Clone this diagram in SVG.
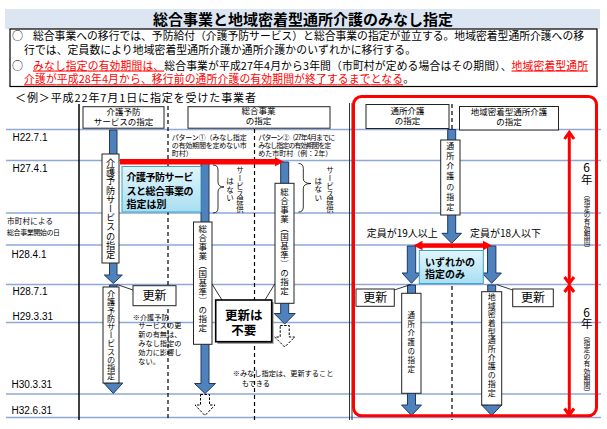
<svg xmlns="http://www.w3.org/2000/svg" width="607" height="429" viewBox="0 0 607 429">
<defs>
<linearGradient id="lb" x1="0" y1="0" x2="0" y2="1">
<stop offset="0" stop-color="#e2f5fc"/>
<stop offset="1" stop-color="#a8dff2"/>
</linearGradient>
<style>
.jp{font-family:"Noto Sans CJK JP","Noto Sans CJK SC",sans-serif;fill:#000}
.lat{font-family:"Liberation Sans",Arial,sans-serif;fill:#000}
.vt{writing-mode:vertical-rl}
.hl{stroke:#8ea9d8;stroke-width:1.3;fill:none}
.dash{stroke:#000;stroke-width:1.2;stroke-dasharray:4 3;fill:none}
.box{fill:#fff;stroke:#222;stroke-width:1}
.bar{fill:#4f81bd;stroke:#203864;stroke-width:1}
.darr{fill:#fff;stroke:#000;stroke-width:1;stroke-dasharray:2.5 1.5}
.lbbox{fill:url(#lb);stroke:#3aa6c8;stroke-width:1}
.red{fill:#ff0000}
.redl{stroke:#ff0000;stroke-width:3;fill:none}
.thin{stroke:#000;stroke-width:0.8;fill:none}
</style>
</defs>

<g id="title">
<rect x="5" y="9" width="595" height="20" fill="#dce6f2"/>
<text class="jp" x="303" y="24.5" font-size="15" font-weight="bold" text-anchor="middle">総合事業と地域密着型通所介護のみなし指定</text>
</g>

<g id="summary">
<rect x="10" y="29" width="587" height="57.5" fill="#fff" stroke="#000" stroke-width="1.2"/>
<text class="jp" x="12" y="40" font-size="11">○</text>
<text class="jp" x="33" y="40" font-size="10.8" textLength="551" lengthAdjust="spacing">総合事業への移行では、予防給付（介護予防サービス）と総合事業の指定が並立する。地域密着型通所介護への移</text>
<text class="jp" x="24" y="54" font-size="10.8" textLength="392" lengthAdjust="spacing">行では、定員数により地域密着型通所介護か通所介護かのいずれかに移行する。</text>
<text class="jp" x="12" y="69.5" font-size="11">○</text>
<text class="jp" x="33" y="69.5" font-size="10.8" textLength="555" lengthAdjust="spacing"><tspan fill="#ff0000" text-decoration="underline">みなし指定の有効期間は、</tspan>総合事業が平成27年4月から3年間（市町村が定める場合はその期間）、<tspan fill="#ff0000" text-decoration="underline">地域密着型通所</tspan></text>
<text class="jp" x="24" y="83.3" font-size="10.8" textLength="390" lengthAdjust="spacing"><tspan fill="#ff0000" text-decoration="underline">介護が平成28年4月から、移行前の通所介護の有効期間が終了するまでとなる</tspan>。</text>
</g>

<g id="example-label">
<text class="jp" x="15" y="101.5" font-size="11" textLength="241" lengthAdjust="spacing">＜例＞平成22年7月1日に指定を受けた事業者</text>
</g>

<g id="grid">
<line class="hl" x1="6" y1="129.5" x2="601" y2="129.5"/>
<line class="hl" x1="6" y1="160.5" x2="601" y2="160.5"/>
<line class="hl" x1="6" y1="213" x2="601" y2="213"/>
<line class="hl" x1="6" y1="245" x2="601" y2="245"/>
<line class="hl" x1="6" y1="284.5" x2="601" y2="284.5"/>
<line class="hl" x1="6" y1="322.5" x2="601" y2="322.5"/>
<line class="hl" x1="6" y1="394" x2="601" y2="394"/>
<line class="hl" x1="6" y1="417.5" x2="601" y2="417.5"/>
<line x1="79" y1="104" x2="79" y2="420" stroke="#000" stroke-width="1.5"/>
<line class="dash" x1="168" y1="106" x2="168" y2="420"/>
<line class="dash" x1="254.5" y1="129" x2="254.5" y2="420"/>
<line class="dash" x1="452" y1="104" x2="452" y2="420"/>
<line x1="349.5" y1="103" x2="349.5" y2="420" stroke="#333" stroke-width="1"/>
<line x1="352" y1="103" x2="352" y2="420" stroke="#333" stroke-width="1"/>
</g>

<g id="dates">
<text class="lat" x="12.5" y="140.5" font-size="10">H22.7.1</text>
<text class="lat" x="12.5" y="171.5" font-size="10">H27.4.1</text>
<text class="jp" x="7" y="223.5" font-size="7.5" textLength="46" lengthAdjust="spacing">市町村による</text>
<text class="jp" x="7" y="234.5" font-size="7" textLength="53" lengthAdjust="spacing">総合事業開始の日</text>
<text class="lat" x="11.5" y="257.5" font-size="10">H28.4.1</text>
<text class="lat" x="12.5" y="294.5" font-size="10">H28.7.1</text>
<text class="lat" x="12.5" y="319.5" font-size="10">H29.3.31</text>
<text class="lat" x="11.5" y="388" font-size="10">H30.3.31</text>
<text class="lat" x="11.5" y="413.5" font-size="10">H32.6.31</text>
</g>

<g id="header-yobo">
<rect class="box" x="83" y="106.7" width="81" height="21.5"/>
<text class="jp" x="123.5" y="114.7" font-size="8.5" text-anchor="middle">介護予防</text>
<text class="jp" x="123.5" y="124.7" font-size="8.5" text-anchor="middle">サービスの指定</text>
</g>
<g id="header-sogo">
<rect class="box" x="188" y="106.7" width="142" height="21.5"/>
<text class="jp" x="258.5" y="114.2" font-size="8.5" text-anchor="middle">総合事業</text>
<text class="jp" x="258.5" y="124" font-size="8.5" text-anchor="middle">の指定</text>
</g>
<g id="header-tsusho">
<rect class="box" x="366" y="104.5" width="83" height="24"/>
<text class="jp" x="407.5" y="114" font-size="8.5" text-anchor="middle">通所介護</text>
<text class="jp" x="407.5" y="124" font-size="8.5" text-anchor="middle">の指定</text>
</g>
<g id="header-chiiki">
<rect class="box" x="459.5" y="106.5" width="99" height="23.5"/>
<text class="jp" x="509" y="114.7" font-size="8.5" text-anchor="middle">地域密着型通所介護</text>
<text class="jp" x="509" y="124.7" font-size="8.5" text-anchor="middle">の指定</text>
</g>

<g id="connectors">
<polygon class="bar" points="109.5,130 117,130 117,275 122.3,275 113.3,283.5 104.3,275 109.5,275"/>
<polygon class="bar" points="109.5,285 117,285 117,383 122.8,383 113.3,393.5 103.8,383 109.5,383"/>
<polygon class="bar" points="201,163 209,163 209,383.5 215.5,383.5 205,393.5 194.5,383.5 201,383.5"/>
<polygon class="darr" points="200.5,394.5 209.5,394.5 209.5,405 215,405 205,415.5 195,405 200.5,405"/>
<polygon class="bar" points="280.7,162 288.7,162 288.7,313.5 295.2,313.5 284.7,324 274.2,313.5 280.7,313.5"/>
<polygon class="darr" points="280.2,325.5 289.2,325.5 289.2,337 294.7,337 284.7,347 274.7,337 280.2,337"/>
<polygon class="bar" points="447.7,129.5 455.7,129.5 455.7,233.3 461.5,233.3 451.7,243.3 441.9,233.3 447.7,233.3"/>
<polygon class="bar" points="407.3,246 415.7,246 415.7,273 421,273 411.5,283.3 402,273 407.3,273"/>
<polygon class="bar" points="487.5,246 495.9,246 495.9,273 501.4,273 491.7,283.3 482,273 487.5,273"/>
<polygon class="bar" points="407.5,285 415.5,285 415.5,405 421.5,405 411.5,415.5 401.5,405 407.5,405"/>
<polygon class="bar" points="487.7,285 495.7,285 495.7,405 501.7,405 491.7,415.5 481.7,405 487.7,405"/>
<rect class="red" x="120" y="159" width="156" height="5.5"/>
<polygon class="red" points="275,157.3 284,161.7 275,166.2"/>
<rect class="red" x="421" y="243.3" width="63" height="4.5"/>
<polygon class="red" points="413.5,245.5 422.5,240.8 422.5,250.2"/>
<polygon class="red" points="492,245.5 483,240.8 483,250.2"/>
<path class="thin" d="M213,165 Q218,165 218,170 L218,182 Q218,187 224,187 Q218,187 218,192 L218,208 Q218,213 213,213"/>
<path class="thin" d="M298.5,163.5 Q303.3,163.5 303.3,168.5 L303.3,178.5 Q303.3,183.5 311,183.5 Q303.3,183.5 303.3,188.5 L303.3,207 Q303.3,212 298.5,212"/>
<line class="thin" x1="133" y1="290" x2="117" y2="284.5"/>
<line class="thin" x1="222" y1="300" x2="212" y2="284"/>
<line class="thin" x1="265" y1="300" x2="275" y2="283.5"/>
<line class="thin" x1="394.3" y1="290" x2="410.7" y2="284.5"/>
<line class="thin" x1="512.7" y1="290" x2="496.5" y2="284.5"/>
</g>

<g id="yobo-1">
<rect class="box" x="102" y="154" width="17" height="109"/>
<text class="jp vt" x="110.5" y="208.5" font-size="9.2" text-anchor="middle">介護予防サービスの指定</text>
</g>
<g id="yobo-2">
<rect class="box" x="103" y="287" width="16" height="96"/>
<text class="jp vt" x="111" y="335" font-size="8.2" text-anchor="middle">介護予防サービスの指定</text>
</g>
<g id="separate-note">
<rect class="lbbox" x="122" y="166.5" width="79" height="45.5"/>
<text class="jp" x="126.5" y="181.4" font-size="10" font-weight="bold" textLength="67" lengthAdjust="spacing">介護予防サービ</text>
<text class="jp" x="126.5" y="195.2" font-size="10" font-weight="bold" textLength="67" lengthAdjust="spacing">スと総合事業の</text>
<text class="jp" x="126.5" y="208" font-size="10" font-weight="bold">指定は別</text>
</g>
<g id="koshin-yobo">
<rect class="box" x="133" y="285.7" width="43" height="20" stroke-width="1.2"/>
<text class="jp" x="154.5" y="300.2" font-size="12" text-anchor="middle">更新</text>
</g>
<g id="yobo-note">
<text class="jp" x="132.7" y="319.5" font-size="7.2">※介護予防</text>
<text class="jp" x="138.3" y="328.3" font-size="7.2">サービスの更</text>
<text class="jp" x="138.3" y="337.1" font-size="7.2">新の有無は、</text>
<text class="jp" x="138.3" y="345.9" font-size="7.2">みなし指定の</text>
<text class="jp" x="138.3" y="354.7" font-size="7.2">効力に影響し</text>
<text class="jp" x="138.3" y="363.5" font-size="7.2">ない。</text>
</g>

<g id="pattern1-label">
<text class="jp" x="171.7" y="139.8" font-size="7" textLength="75" lengthAdjust="spacing">パターン①（みなし指定</text>
<text class="jp" x="171.7" y="147.8" font-size="7" textLength="75" lengthAdjust="spacing">の有効期間を定めない市</text>
<text class="jp" x="171.7" y="155.8" font-size="7">町村）</text>
</g>
<g id="pattern2-label">
<text class="jp" x="258.3" y="139.8" font-size="7" textLength="77" lengthAdjust="spacing">パターン②（27年4月までに</text>
<text class="jp" x="258.3" y="147.8" font-size="7" textLength="73" lengthAdjust="spacing">みなし指定の有効期間を定</text>
<text class="jp" x="258.3" y="155.8" font-size="7">めた市町村（例：2年）</text>
</g>
<g id="sogo-1">
<rect class="box" x="193.5" y="222" width="18.5" height="122.3"/>
<text class="jp vt" x="202.7" y="279" font-size="8.5" letter-spacing="0.5" text-anchor="middle">総合事業（国基準）の指定</text>
</g>
<g id="no-service-1">
<text class="jp vt" x="240" y="190" font-size="7.5" letter-spacing="0.3" text-anchor="middle">サービス提供</text>
<text class="jp vt" x="230" y="190.5" font-size="7.5" letter-spacing="1" text-anchor="middle">はない</text>
</g>
<g id="sogo-2">
<rect class="box" x="275" y="183.3" width="19" height="120"/>
<text class="jp vt" x="284.5" y="242" font-size="8.5" letter-spacing="0.5" text-anchor="middle">総合事業（国基準）の指定</text>
</g>
<g id="no-service-2">
<text class="jp vt" x="330" y="190" font-size="7.5" letter-spacing="0.3" text-anchor="middle">サービス提供</text>
<text class="jp vt" x="318.3" y="190" font-size="7.5" letter-spacing="1" text-anchor="middle">はない</text>
</g>
<g id="no-renewal">
<rect x="217.5" y="302" width="56" height="41.7" fill="#7f7f7f"/>
<rect x="215.7" y="300" width="56" height="41.7" fill="#fff" stroke="#000" stroke-width="1.6"/>
<text class="jp" x="243.7" y="319.5" font-size="12.5" font-weight="bold" text-anchor="middle">更新は</text>
<text class="jp" x="243.7" y="335" font-size="12.5" font-weight="bold" text-anchor="middle">不要</text>
</g>
<g id="renew-note">
<text class="jp" x="232.7" y="376" font-size="7.2">※みなし指定は、更新すること</text>
<text class="jp" x="241.7" y="386" font-size="7.2">もできる</text>
</g>

<g id="tsusho-1">
<rect class="box" x="440.7" y="140" width="19.3" height="75"/>
<text class="jp vt" x="450.3" y="177.5" font-size="8" letter-spacing="2.2" text-anchor="middle">通所介護の指定</text>
</g>
<g id="capacity-labels">
<text class="jp" x="366.7" y="236.7" font-size="10">定員が19人以上</text>
<text class="jp" x="470" y="236.7" font-size="10">定員が18人以下</text>
</g>
<g id="either-only">
<rect class="lbbox" x="419.3" y="250.5" width="64" height="33"/>
<text class="jp" x="425" y="266.3" font-size="10" font-weight="bold">いずれかの</text>
<text class="jp" x="425" y="277.8" font-size="10" font-weight="bold">指定のみ</text>
</g>
<g id="tsusho-2">
<rect class="box" x="401.7" y="293.3" width="19.3" height="100"/>
<text class="jp vt" x="411.3" y="343.3" font-size="7.5" letter-spacing="1.5" text-anchor="middle">通所介護の指定</text>
</g>
<g id="chiiki-2">
<rect class="box" x="481.7" y="291.7" width="20" height="113.3"/>
<text class="jp vt" x="491.7" y="345" font-size="8" letter-spacing="0.7" text-anchor="middle">地域密着型通所介護の指定</text>
</g>
<g id="koshin-tsusho">
<rect class="box" x="356" y="289" width="38.3" height="17.3" stroke-width="1.2"/>
<text class="jp" x="375.2" y="302" font-size="12" text-anchor="middle">更新</text>
</g>
<g id="koshin-chiiki">
<rect class="box" x="512.7" y="289" width="40.6" height="17.7" stroke-width="1.2"/>
<text class="jp" x="533" y="302.2" font-size="12" text-anchor="middle">更新</text>
</g>

<g id="red-frame">
<rect class="redl" x="353.5" y="96.5" width="243" height="319.2" rx="8"/>
<line class="redl" x1="569.3" y1="133" x2="569.3" y2="282.5"/>
<polyline class="redl" points="564.5,139 569.3,132.3 574,139"/>
<polyline class="redl" points="564.5,277 569.3,283.3 574,277"/>
<line class="redl" x1="569.3" y1="286.3" x2="569.3" y2="414.2"/>
<polyline class="redl" points="564.5,292 569.3,285.5 574,292"/>
<polyline class="redl" points="564.5,408.5 569.3,415 574,408.5"/>
</g>
<g id="period-1">
<text class="jp" x="586.7" y="171.5" font-size="12" text-anchor="middle">6</text>
<text class="jp" x="586.7" y="184" font-size="11.5" text-anchor="middle">年</text>
<text class="jp vt" x="587" y="221.7" font-size="6.5" letter-spacing="0.2" text-anchor="middle">（指定の有効期間）</text>
</g>
<g id="period-2">
<text class="jp" x="586.7" y="316.5" font-size="12" text-anchor="middle">6</text>
<text class="jp" x="586.7" y="327.5" font-size="11.5" text-anchor="middle">年</text>
<text class="jp vt" x="587" y="364" font-size="6.8" letter-spacing="0.3" text-anchor="middle">（指定の有効期間）</text>
</g>
</svg>
